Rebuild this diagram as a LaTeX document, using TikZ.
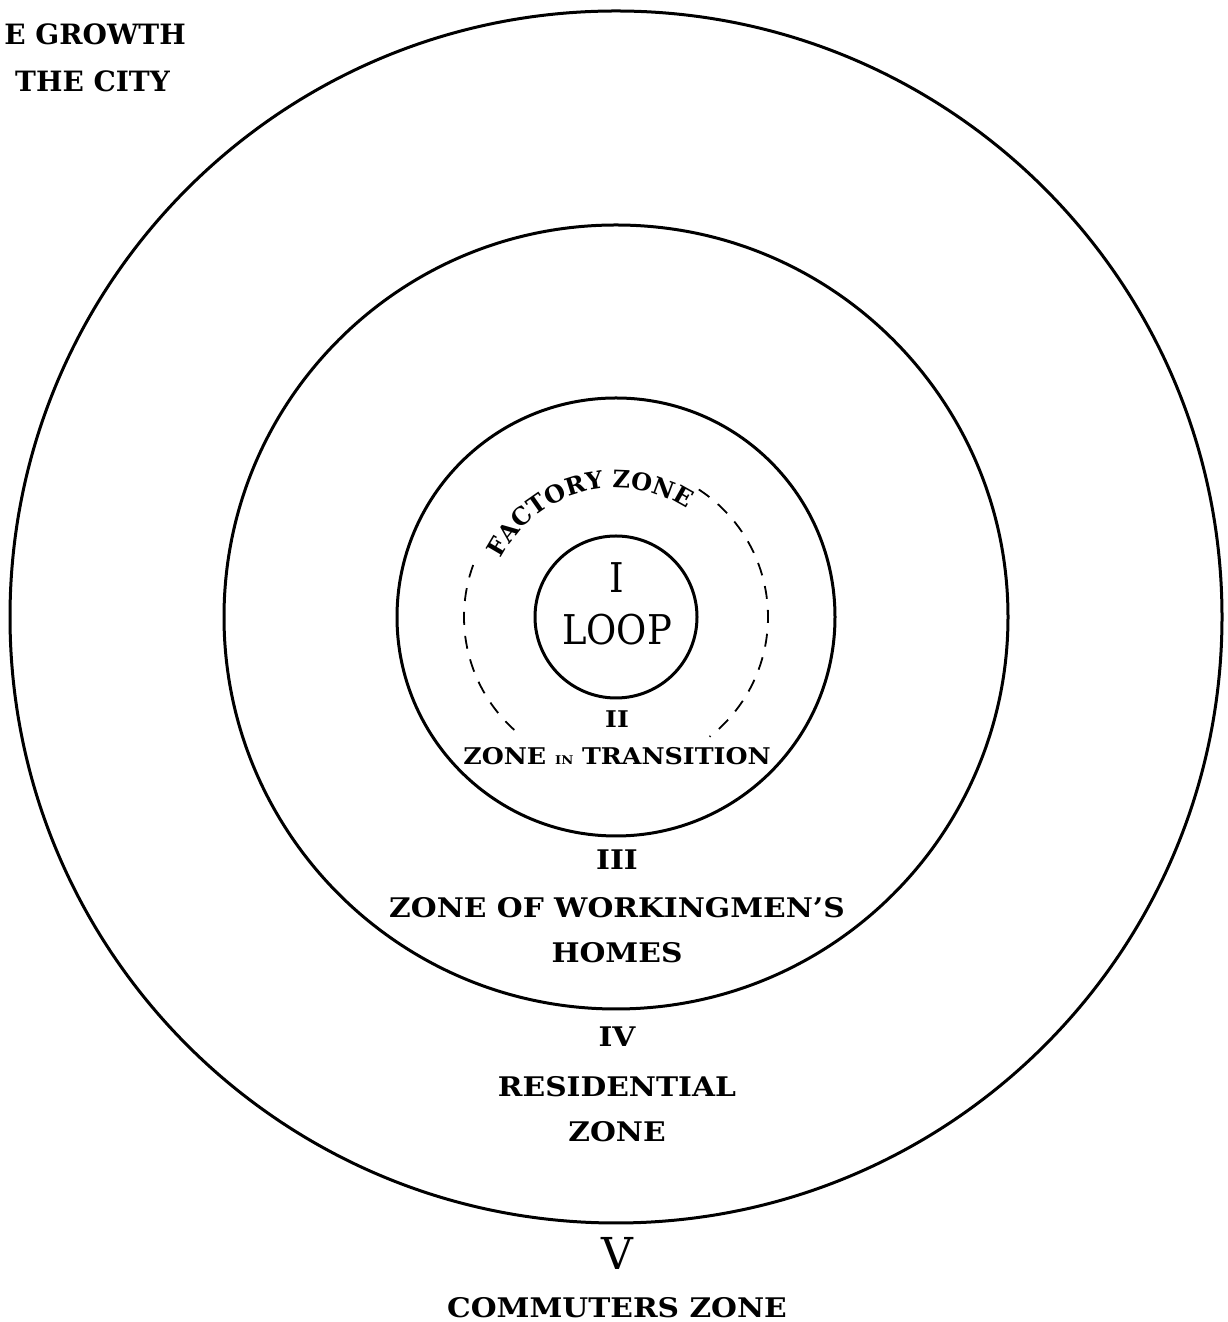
\documentclass[tikz,border=0pt]{standalone}
\usepackage{fontspec}
\setmainfont{DejaVu Serif}
\newfontfamily\slab{DejaVu Serif}[FakeStretch=1.1]
\newfontfamily\slabn{DejaVu Serif}
\newfontfamily\loopf{DejaVu Serif}[FakeStretch=0.9]
\usetikzlibrary{decorations.text}
\tikzset{
  ring/.style={draw, line width=3pt},
  dashring/.style={draw, line width=1.8pt, dash pattern=on 13pt off 11pt},
  lbl/.style={inner sep=0pt, anchor=base, font=\slab\bfseries\fontsize{27}{27}\selectfont},
  titlelbl/.style={inner sep=0pt, anchor=base east, font=\slabn\bfseries\fontsize{28}{28}\selectfont},
  smalllbl/.style={inner sep=0pt, anchor=base, font=\slab\bfseries\fontsize{23}{23}\selectfont},
  biglbl/.style={inner sep=0pt, anchor=base, font=\loopf\fontsize{41}{41}\selectfont},
}
\begin{document}
\begin{tikzpicture}[x=1pt,y=1pt]
\useasboundingbox (0,0) rectangle (1228,1322);
\coordinate (C) at (616,705);
\draw[ring] (C) circle (606pt);
\draw[ring] (C) circle (392pt);
\draw[ring] (C) circle (219pt);
\draw[ring] (C) circle (81pt);
% dashed factory zone circle, interrupted by the labels
\draw[dashring] ([shift={(57:152pt)}]C) arc[start angle=57, end angle=-52, radius=152pt];
\draw[dashring] ([shift={(160:152pt)}]C) arc[start angle=160, end angle=228, radius=152pt];
\path[decorate, decoration={text along path, text align=center,
  text={|\slabn\bfseries\fontsize{24}{24}\selectfont|FACTORY ZONE}}]
  ([shift={(155:129pt)}]C) arc[start angle=155, end angle=55, radius=129pt];
% labels
\node[titlelbl] (title1) at (186,1277) {E GROWTH};
\node[titlelbl] (title2) at (170,1230) {THE CITY};
\node[biglbl] (one) at (617,729) {I};
\node[biglbl] (loop) at (617,677) {LOOP};
\node[smalllbl] (two) at (617,594) {II};
\node[smalllbl] (trans) at (617,557) {ZONE {\fontsize{12}{12}\selectfont IN} TRANSITION};
\node[lbl] (three) at (617,452) {III};
\node[lbl] (work) at (617,404) {ZONE OF WORKINGMEN’S};
\node[lbl] (homes) at (617,359) {HOMES};
\node[lbl] (four) at (617,275) {IV};
\node[lbl] (resid) at (617,225) {RESIDENTIAL};
\node[lbl] (zone4) at (617,180) {ZONE};
\node[inner sep=0pt, anchor=base, font=\fontsize{44}{44}\selectfont] (five) at (617,52) {V};
\node[lbl] (comm) at (617,5) {COMMUTERS ZONE};
\end{tikzpicture}
\end{document}
